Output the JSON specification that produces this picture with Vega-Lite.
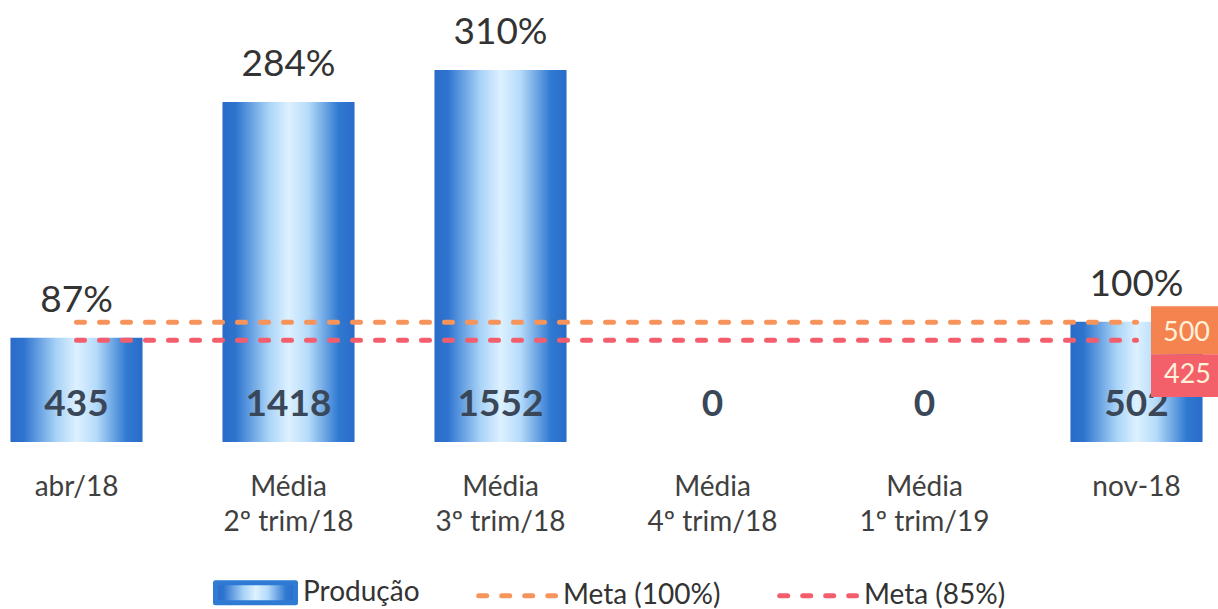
{
  "$schema": "https://vega.github.io/schema/vega-lite/v6.json",
  "width": 1213,
  "height": 442,
  "autosize": {"type": "none"},
  "padding": {"left": 0, "top": 0, "right": 5, "bottom": 167},
  "background": "white",
  "config": {"view": {"stroke": null}, "font": "Lato"},
  "datasets": {
    "prod": [
      {"cat": "abr/18", "prod": 435, "pct": "87%"},
      {"cat": "Média|2º trim/18", "prod": 1418, "pct": "284%"},
      {"cat": "Média|3º trim/18", "prod": 1552, "pct": "310%"},
      {"cat": "Média|4º trim/18", "prod": 0, "pct": ""},
      {"cat": "Média|1º trim/19", "prod": 0, "pct": ""},
      {"cat": "nov-18", "prod": 502, "pct": "100%"}
    ],
    "meta": [
      {"cat": "abr/18", "serie": "Meta (100%)", "meta": 500},
      {"cat": "Média|2º trim/18", "serie": "Meta (100%)", "meta": 500},
      {"cat": "Média|3º trim/18", "serie": "Meta (100%)", "meta": 500},
      {"cat": "Média|4º trim/18", "serie": "Meta (100%)", "meta": 500},
      {"cat": "Média|1º trim/19", "serie": "Meta (100%)", "meta": 500},
      {"cat": "nov-18", "serie": "Meta (100%)", "meta": 500},
      {"cat": "abr/18", "serie": "Meta (85%)", "meta": 425},
      {"cat": "Média|2º trim/18", "serie": "Meta (85%)", "meta": 425},
      {"cat": "Média|3º trim/18", "serie": "Meta (85%)", "meta": 425},
      {"cat": "Média|4º trim/18", "serie": "Meta (85%)", "meta": 425},
      {"cat": "Média|1º trim/19", "serie": "Meta (85%)", "meta": 425},
      {"cat": "nov-18", "serie": "Meta (85%)", "meta": 425}
    ]
  },
  "encoding": {
    "x": {
      "field": "cat",
      "type": "nominal",
      "sort": null,
      "scale": {"paddingInner": 0.377, "paddingOuter": 0.0494},
      "axis": {
        "title": null,
        "domain": false,
        "ticks": false,
        "grid": false,
        "labelAngle": 0,
        "labelFont": "Lato",
        "labelFontSize": 28,
        "labelColor": "#404040",
        "labelPadding": 31,
        "labelLineHeight": 35,
        "labelBaseline": "top",
        "labelExpr": "split(datum.label, '|')"
      }
    }
  },
  "layer": [
    {
      "data": {"name": "prod"},
      "mark": {
        "type": "bar",
        "color": {
          "gradient": "linear",
          "x1": 0, "y1": 0, "x2": 1, "y2": 0,
          "stops": [
            {"offset": 0, "color": "#2A6CC8"},
            {"offset": 0.1, "color": "#2E74CF"},
            {"offset": 0.35, "color": "#A9D3F7"},
            {"offset": 0.5, "color": "#DDF1FF"},
            {"offset": 0.65, "color": "#B5DBFA"},
            {"offset": 0.88, "color": "#3079D1"},
            {"offset": 1, "color": "#2A6CC8"}
          ]
        }
      },
      "encoding": {
        "y": {"field": "prod", "type": "quantitative", "scale": {"domain": [0, 1844], "nice": false, "zero": true}, "axis": null}
      }
    },
    {
      "data": {"name": "meta"},
      "mark": {"type": "line", "strokeDash": [8, 15], "strokeWidth": 5, "strokeCap": "round"},
      "encoding": {
        "y": {"field": "meta", "type": "quantitative"},
        "color": {
          "field": "serie",
          "type": "nominal",
          "scale": {"domain": ["Produção", "Meta (100%)", "Meta (85%)"], "range": ["#2F7BD3", "#F7945C", "#F45E6C"]},
          "legend": {
            "orient": "none",
            "legendX": 213,
            "legendY": 550,
            "direction": "horizontal",
            "title": null,
            "padding": 0,
            "labelFont": "Lato",
            "labelFontSize": 28,
            "labelColor": "#333333",
            "labelOffset": 5,
            "columnPadding": 48,
            "symbolSize": 6400,
            "symbolType": "M-1,0H1",
            "symbolStrokeWidth": 5,
            "encode": {
              "symbols": {
                "update": {
                  "shape": {"signal": "datum.value === 'Produção' ? 'M-1,-0.25H1V0.25H-1Z' : 'M-0.92,0H1'"},
                  "fill": {"signal": "datum.value === 'Produção' ? {gradient: 'linear', x1: 0, y1: 0, x2: 1, y2: 0, stops: [{offset: 0, color: '#2A6CC8'}, {offset: 0.1, color: '#2E74CF'}, {offset: 0.35, color: '#A9D3F7'}, {offset: 0.5, color: '#DDF1FF'}, {offset: 0.65, color: '#B5DBFA'}, {offset: 0.88, color: '#3079D1'}, {offset: 1, color: '#2A6CC8'}]} : 'transparent'"},
                  "stroke": {"signal": "datum.value === 'Produção' ? 'transparent' : (datum.value === 'Meta (100%)' ? '#F7945C' : '#F45E6C')"},
                  "strokeDash": {"signal": "datum.value === 'Produção' ? [1, 0] : [8, 15]"},
                  "strokeCap": {"value": "round"},
                  "strokeWidth": {"value": 5},
                  "opacity": {"value": 1}
                }
              }
            }
          }
        }
      }
    },
    {
      "data": {"name": "prod"},
      "mark": {"type": "text", "baseline": "middle", "dy": -37, "fontSize": 37, "color": "#333333", "font": "Lato"},
      "encoding": {
        "y": {"field": "prod", "type": "quantitative"},
        "text": {"field": "pct"}
      }
    },
    {
      "data": {"name": "prod"},
      "mark": {"type": "text", "baseline": "middle", "fontSize": 37, "fontWeight": "bold", "color": "#3A4758", "font": "Lato"},
      "encoding": {
        "y": {"datum": 154},
        "text": {"field": "prod"}
      }
    },
    {
      "data": {"name": "meta"},
      "transform": [{"filter": "datum.cat === 'nov-18' && datum.serie === 'Meta (100%)'"}],
      "mark": {"type": "point", "shape": "M-1,-0.706H1V0.706H-1Z", "size": 4624, "filled": true, "color": "#F5834F", "opacity": 1, "xOffset": 48.5, "yOffset": 8},
      "encoding": {"y": {"field": "meta", "type": "quantitative"}}
    },
    {
      "data": {"name": "meta"},
      "transform": [{"filter": "datum.cat === 'nov-18' && datum.serie === 'Meta (85%)'"}],
      "mark": {"type": "point", "shape": "M-1,-0.632H1V0.632H-1Z", "size": 4624, "filled": true, "color": "#F4606A", "opacity": 1, "xOffset": 48.5, "yOffset": 35.5},
      "encoding": {"y": {"field": "meta", "type": "quantitative"}}
    },
    {
      "data": {"name": "meta"},
      "transform": [{"filter": "datum.cat === 'nov-18' && datum.serie === 'Meta (100%)'"}],
      "mark": {"type": "text", "baseline": "middle", "fontSize": 27, "color": "#FFF2D9", "font": "Lato", "xOffset": 50, "yOffset": 11},
      "encoding": {"y": {"field": "meta", "type": "quantitative"}, "text": {"field": "meta"}}
    },
    {
      "data": {"name": "meta"},
      "transform": [{"filter": "datum.cat === 'nov-18' && datum.serie === 'Meta (85%)'"}],
      "mark": {"type": "text", "baseline": "middle", "fontSize": 27, "color": "#FFF2D9", "font": "Lato", "xOffset": 51, "yOffset": 35},
      "encoding": {"y": {"field": "meta", "type": "quantitative"}, "text": {"field": "meta"}}
    }
  ]
}
